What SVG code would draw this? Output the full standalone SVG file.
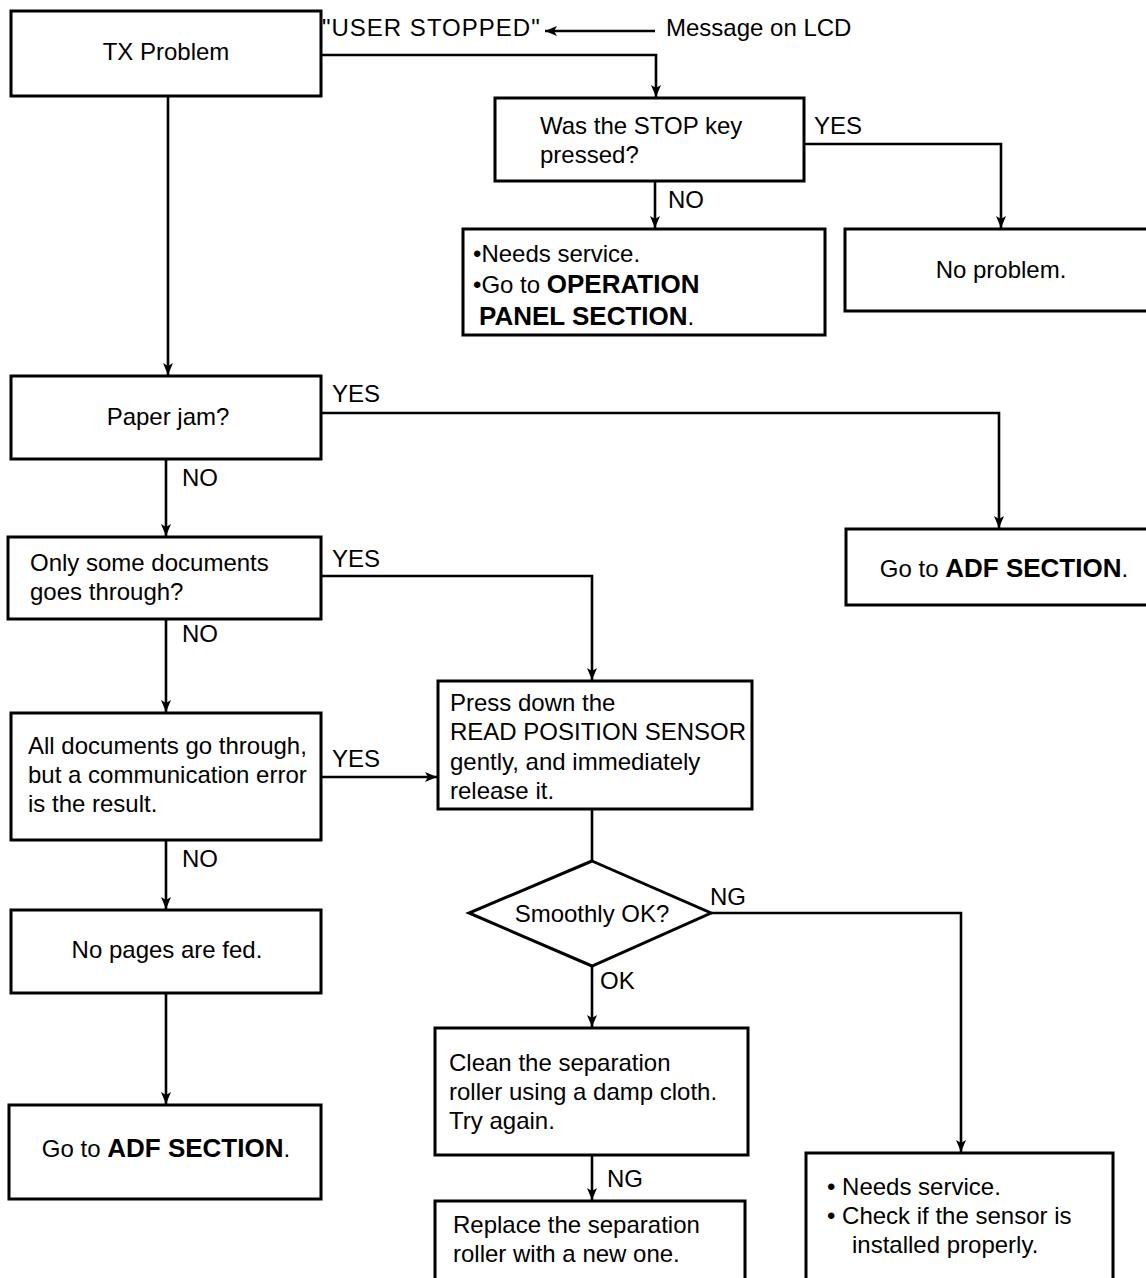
<svg xmlns="http://www.w3.org/2000/svg" width="1146" height="1278" viewBox="0 0 1146 1278">
<defs>
<marker id="arr" markerUnits="userSpaceOnUse" markerWidth="13" markerHeight="11" refX="12" refY="5" orient="auto">
<path d="M0,0 L12,5 L0,10 L3,5 z" fill="#000"/>
</marker>
</defs>
<style>
.box{fill:#fff;stroke:#000;stroke-width:3}
.ln{fill:none;stroke:#000;stroke-width:2.6}
text{font-family:"Liberation Sans",Arial,sans-serif;font-size:24px;fill:#000}
.c{text-anchor:middle}
.b{font-weight:bold;font-size:26px}
</style>
<rect width="1146" height="1278" fill="#fff"/>
<g id="connectors">
<path class="ln" d="M321,55 H656 V97" marker-end="url(#arr)"/>
<path class="ln" d="M655,31 H545" stroke-width="2" marker-end="url(#arr)"/>
<path class="ln" d="M655,181 V228" marker-end="url(#arr)"/>
<path class="ln" d="M804,144 H1001 V228" marker-end="url(#arr)"/>
<path class="ln" d="M168,96 V375" marker-end="url(#arr)"/>
<path class="ln" d="M321,413 H999 V528" marker-end="url(#arr)"/>
<path class="ln" d="M166,459 V536" marker-end="url(#arr)"/>
<path class="ln" d="M321,576 H592 V680" marker-end="url(#arr)"/>
<path class="ln" d="M166,619 V712" marker-end="url(#arr)"/>
<path class="ln" d="M321,777 H437" marker-end="url(#arr)"/>
<path class="ln" d="M166,840 V909" marker-end="url(#arr)"/>
<path class="ln" d="M166,993 V1104" marker-end="url(#arr)"/>
<path class="ln" d="M592,809 V861"/>
<path class="ln" d="M711,913 H961 V1152" marker-end="url(#arr)"/>
<path class="ln" d="M592,966 V1027" marker-end="url(#arr)"/>
<path class="ln" d="M592,1155 V1200" marker-end="url(#arr)"/>
</g>
<g id="labels">
<text x="322" y="36" letter-spacing="1">"USER STOPPED"</text>
<text x="666" y="36">Message on LCD</text>
<text x="814" y="134">YES</text>
<text x="668" y="208">NO</text>
<text x="332" y="402">YES</text>
<text x="182" y="486">NO</text>
<text x="332" y="567">YES</text>
<text x="182" y="642">NO</text>
<text x="332" y="767">YES</text>
<text x="182" y="867">NO</text>
<text x="710" y="905">NG</text>
<text x="600" y="989">OK</text>
<text x="607" y="1187">NG</text>
</g>
<g id="tx-problem">
<rect class="box" x="11" y="11" width="310" height="85"/>
<text class="c" x="166" y="60">TX Problem</text>
</g>
<g id="stop-key">
<rect class="box" x="495" y="98" width="309" height="83"/>
<text x="540" y="134">Was the STOP key</text>
<text x="540" y="163">pressed?</text>
</g>
<g id="needs-service-1">
<rect class="box" x="463" y="229" width="362" height="106"/>
<text x="473" y="262">•Needs service.</text>
<text x="473" y="293">•Go to <tspan class="b">OPERATION</tspan></text>
<text x="479" y="325"><tspan class="b">PANEL SECTION</tspan>.</text>
</g>
<g id="no-problem">
<rect class="box" x="845" y="229" width="310" height="82"/>
<text class="c" x="1001" y="278">No problem.</text>
</g>
<g id="paper-jam">
<rect class="box" x="11" y="376" width="310" height="83"/>
<text class="c" x="168" y="425">Paper jam?</text>
</g>
<g id="adf-right">
<rect class="box" x="846" y="529" width="310" height="76"/>
<text class="c" x="1004" y="577">Go to <tspan class="b">ADF SECTION</tspan>.</text>
</g>
<g id="only-some">
<rect class="box" x="8" y="537" width="313" height="82"/>
<text x="30" y="571">Only some documents</text>
<text x="30" y="600">goes through?</text>
</g>
<g id="all-docs">
<rect class="box" x="11" y="713" width="310" height="127"/>
<text x="28" y="754">All documents go through,</text>
<text x="28" y="783">but a communication error</text>
<text x="28" y="812">is the result.</text>
</g>
<g id="press-down">
<rect class="box" x="438" y="681" width="314" height="128"/>
<text x="450" y="711">Press down the</text>
<text x="450" y="740">READ POSITION SENSOR</text>
<text x="450" y="770">gently, and immediately</text>
<text x="450" y="799">release it.</text>
</g>
<g id="smoothly">
<polygon class="box" points="592,861 711,913 592,966 469,913"/>
<text class="c" x="592" y="922">Smoothly OK?</text>
</g>
<g id="no-pages">
<rect class="box" x="11" y="910" width="310" height="83"/>
<text class="c" x="167" y="958">No pages are fed.</text>
</g>
<g id="adf-left">
<rect class="box" x="9" y="1105" width="312" height="94"/>
<text class="c" x="166" y="1157">Go to <tspan class="b">ADF SECTION</tspan>.</text>
</g>
<g id="clean">
<rect class="box" x="435" y="1028" width="313" height="127"/>
<text x="449" y="1071">Clean the separation</text>
<text x="449" y="1100">roller using a damp cloth.</text>
<text x="449" y="1129">Try again.</text>
</g>
<g id="replace">
<rect class="box" x="435" y="1201" width="310" height="90"/>
<text x="453" y="1233">Replace the separation</text>
<text x="453" y="1262">roller with a new one.</text>
</g>
<g id="needs-service-2">
<rect class="box" x="806" y="1153" width="307" height="140"/>
<text x="827" y="1195">• Needs service.</text>
<text x="827" y="1224">• Check if the sensor is</text>
<text x="852" y="1253">installed properly.</text>
</g>
</svg>
